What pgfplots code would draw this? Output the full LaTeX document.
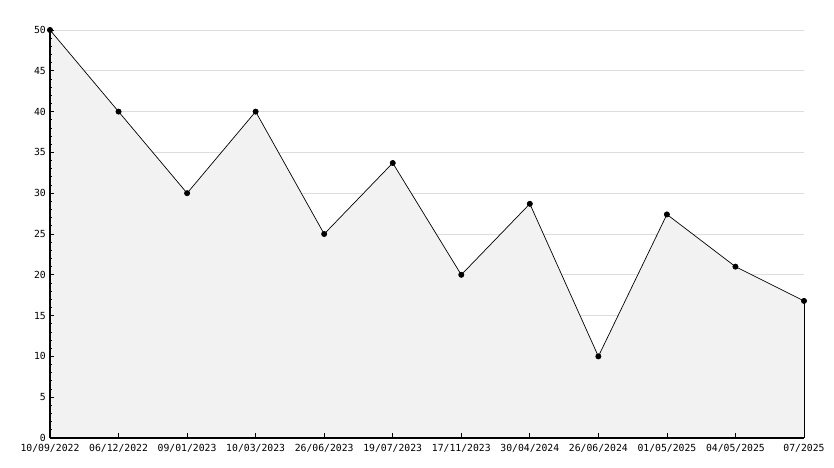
\documentclass[border=0pt]{standalone}
\usepackage{pgfplots}
\pgfplotsset{compat=1.18}
\usepackage{fontspec}
\setmainfont{DejaVu Sans Mono}
\definecolor{fillgray}{HTML}{F2F2F2}
\definecolor{gridgray}{HTML}{DDDDDD}
\begin{document}
\begin{tikzpicture}
\path (0,0) rectangle (834bp,-468bp);
\begin{axis}[
  at={(50bp,-30bp)}, anchor=north west,
  scale only axis, width=754bp, height=408bp,
  xmin=0, xmax=11, ymin=0, ymax=50,
  axis on top,
  axis x line*=bottom, axis y line*=left,
  x axis line style={-}, y axis line style={-},
  every outer x axis line/.append style={black, line width=1.1bp},
  every outer y axis line/.append style={black, line width=1.1bp},
  xtick={0,...,11},
  xticklabels={10/09/2022,06/12/2022,09/01/2023,10/03/2023,26/06/2023,19/07/2023,17/11/2023,30/04/2024,26/06/2024,01/05/2025,04/05/2025,07/2025},
  ytick={0,5,...,50},
  minor y tick num=4,
  tick align=inside,
  major tick length=4.5bp, minor tick length=2.5bp,
  every tick/.style={black, line width=0.8bp},
  /pgf/number format/assume math mode=true,
  ticklabel style={font=\fontsize{9.8}{11}\selectfont},
  xticklabel style={inner sep=1bp, yshift=-5bp},
  yticklabel style={inner sep=1bp, xshift=-3bp},
  clip=false,
]
% horizontal grid lines (drawn under the area)
\addplot[xcomb, gridgray, line width=0.9bp, mark=none] coordinates {
(11,5) (11,10) (11,15) (11,20) (11,25) (11,30) (11,35) (11,40) (11,45) (11,50)
};
\addplot[fill=fillgray, draw=none] coordinates {
(0,50) (1,40) (2,30) (3,40) (4,25) (5,33.7) (6,20) (7,28.7) (8,10) (9,27.4) (10,21) (11,16.8)
} \closedcycle;
\addplot[black, line width=0.7bp, mark=*, mark size=2.6bp, mark options={fill=black}] coordinates {
(0,50) (1,40) (2,30) (3,40) (4,25) (5,33.7) (6,20) (7,28.7) (8,10) (9,27.4) (10,21) (11,16.8)
};
\addplot[black, line width=0.9bp] coordinates {(11,0) (11,16.8)};
\end{axis}
\end{tikzpicture}
\end{document}
